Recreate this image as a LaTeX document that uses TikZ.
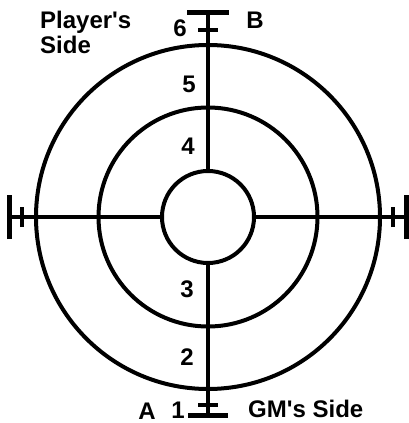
\documentclass[tikz,border=0pt]{standalone}
\usepackage{fontspec}
\setmainfont{Liberation Sans}[Ligatures=TeXOff]
\usetikzlibrary{positioning}

\begin{document}
\begin{tikzpicture}[x=1pt, y=-1pt, ring/.style={draw, circle, line width=4pt, inner sep=0pt}, axis/.style={line width=3.5pt}, endbar/.style={line width=5pt}, mark label/.style={font=\fontsize{24}{25}\selectfont\bfseries, inner sep=0pt}]
\useasboundingbox (0,0) rectangle (408,423);
\node[ring, minimum size=344pt] (outer) at (208,217) {};
\node[ring, minimum size=219pt] (middle) at (208,217) {};
\node[ring, minimum size=92pt, fill=white] (hub) at (208,217) {};
\coordinate (top) at (208,12);
\coordinate (bottom) at (208,415);
\coordinate (left) at (9,217);
\coordinate (right) at (406,217);
\coordinate (tick6) at (208,30);
\coordinate (tick1) at (208,405);
\coordinate (tickleft) at (22,217);
\coordinate (tickright) at (393,217);
% axes
\draw[axis] (top) -- (hub.north);
\draw[axis] (hub.south) -- (bottom);
\draw[axis] (left) -- (hub.west);
\draw[axis] (hub.east) -- (right);
\draw[endbar] ([xshift=-21pt]top) -- ([xshift=21pt]top);
\draw[endbar] ([xshift=-20pt]bottom) -- ([xshift=20pt]bottom);
\draw[endbar] ([yshift=-22pt]left) -- ([yshift=22pt]left);
\draw[endbar] ([yshift=-22pt]right) -- ([yshift=22pt]right);
\draw[axis] ([xshift=-10pt]tick6) -- ([xshift=10pt]tick6);
\draw[axis] ([xshift=-10pt]tick1) -- ([xshift=10pt]tick1);
\draw[axis] ([yshift=-10pt]tickleft) -- ([yshift=10pt]tickleft);
\draw[axis] ([yshift=-10pt]tickright) -- ([yshift=10pt]tickright);
% labels
\node[mark label] (six) at (180,28) {6};
\node[mark label] (five) at (189,84) {5};
\node[mark label] (four) at (188,146) {4};
\node[mark label] (three) at (187,289) {3};
\node[mark label] (two) at (187,357) {2};
\node[mark label] (one) at (178,410) {1};
\node[mark label] (pointa) at (147,411) {A};
\node[mark label] (pointb) at (255,20) {B};
\node[mark label, anchor=north west, align=left] (player) at (40,11) {Player's\\Side};
\node[mark label, anchor=west] (gm) at (248,409) {GM's Side};
\end{tikzpicture}
\end{document}
